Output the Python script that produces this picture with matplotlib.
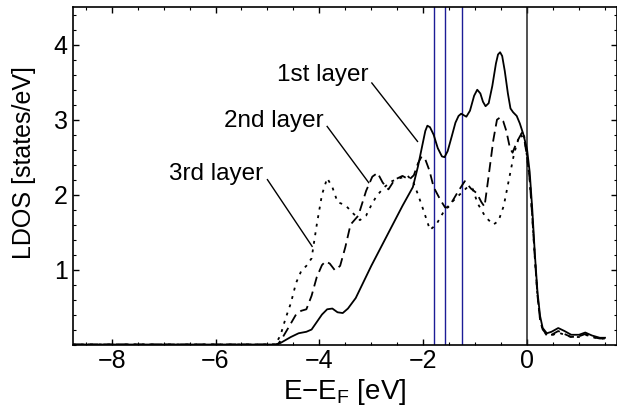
import numpy as np
import matplotlib.pyplot as plt
from matplotlib.ticker import MultipleLocator

plt.rcParams["font.family"] = ["Liberation Sans", "DejaVu Sans"]
plt.rcParams["mathtext.fontset"] = "custom"
plt.rcParams["mathtext.rm"] = "Liberation Sans"

# 1st layer (solid)
e1 = [-8.75, -5.0, -4.85, -4.75, -4.65, -4.55, -4.4, -4.25, -4.15, -4.05, -3.95,
      -3.85, -3.75, -3.65, -3.55, -3.45, -3.3, -3.0, -2.7, -2.4, -2.2, -2.1,
      -2.02, -1.96, -1.92, -1.87, -1.8, -1.72, -1.64, -1.59, -1.53, -1.45,
      -1.38, -1.32, -1.27, -1.22, -1.17, -1.1, -1.02, -0.96, -0.9, -0.85, -0.8,
      -0.74, -0.67, -0.6, -0.56, -0.52, -0.48, -0.43, -0.37, -0.32, -0.27,
      -0.2, -0.14, -0.07, 0.0, 0.05, 0.1, 0.15, 0.2, 0.25, 0.3, 0.38, 0.47,
      0.6, 0.72, 0.85, 1.0, 1.12, 1.25, 1.4, 1.5]
d1 = [0.0, 0.0, 0.0, 0.02, 0.06, 0.1, 0.15, 0.17, 0.2, 0.3, 0.4,
      0.47, 0.48, 0.43, 0.42, 0.48, 0.62, 1.05, 1.45, 1.85, 2.1, 2.38,
      2.65, 2.85, 2.92, 2.9, 2.8, 2.62, 2.51, 2.5, 2.58, 2.78,
      2.96, 3.05, 3.08, 3.06, 3.04, 3.12, 3.32, 3.4, 3.35, 3.24, 3.18,
      3.22, 3.45, 3.75, 3.87, 3.9, 3.85, 3.65, 3.35, 3.15, 3.1,
      3.05, 2.95, 2.8, 2.6, 2.3, 1.8, 1.2, 0.7, 0.38, 0.22, 0.15, 0.17,
      0.22, 0.18, 0.13, 0.13, 0.16, 0.12, 0.09, 0.09]

# 2nd layer (dashed)
e2 = [-8.75, -4.8, -4.72, -4.6, -4.45, -4.35, -4.25, -4.15, -4.05, -3.95, -3.88,
      -3.8, -3.7, -3.6, -3.5, -3.4, -3.25, -3.1, -2.98, -2.88, -2.78, -2.67,
      -2.55, -2.4, -2.27, -2.18, -2.1, -2.03, -1.96, -1.88, -1.8, -1.67, -1.58,
      -1.52, -1.45, -1.33, -1.2, -1.08, -0.97, -0.88, -0.82, -0.75, -0.65,
      -0.58, -0.52, -0.46, -0.4, -0.33, -0.28, -0.2, -0.12, -0.05, 0.0, 0.05,
      0.1, 0.15, 0.2, 0.25, 0.3, 0.38, 0.47, 0.6, 0.72, 0.85, 1.0, 1.12, 1.25,
      1.4, 1.5]
d2 = [0.0, 0.0, 0.08, 0.22, 0.4, 0.45, 0.47, 0.65, 0.9, 1.06, 1.11,
      1.08, 0.99, 1.05, 1.3, 1.6, 1.72, 2.05, 2.24, 2.29, 2.16, 2.07,
      2.2, 2.25, 2.2, 2.26, 2.42, 2.51, 2.47, 2.32, 2.1, 1.93, 1.83,
      1.83, 1.9, 2.04, 2.18, 2.08, 2.02, 1.9, 1.84, 2.2, 2.73,
      3.0, 3.03, 2.98, 2.85, 2.62, 2.56, 2.7, 2.8, 2.72, 2.5, 2.2,
      1.7, 1.15, 0.65, 0.33, 0.2, 0.13, 0.13, 0.18, 0.14, 0.1, 0.11, 0.14, 0.1,
      0.08, 0.08]

# 3rd layer (dotted)
e3 = [-8.75, -4.85, -4.75, -4.65, -4.55, -4.45, -4.35, -4.25, -4.15, -4.05,
      -3.95, -3.85, -3.75, -3.65, -3.5, -3.35, -3.22, -3.1, -3.0, -2.9, -2.75,
      -2.6, -2.45, -2.3, -2.2, -2.1, -2.0, -1.87, -1.75, -1.6, -1.45, -1.3,
      -1.15, -1.05, -0.95, -0.8, -0.65, -0.55, -0.45, -0.35, -0.25, -0.15,
      -0.07, 0.0, 0.05, 0.1, 0.15, 0.2, 0.25, 0.3, 0.38, 0.47, 0.6, 0.72, 0.85,
      1.0, 1.12, 1.25, 1.4, 1.5]
d3 = [0.0, 0.0, 0.12, 0.35, 0.55, 0.82, 0.98, 1.05, 1.15, 1.6,
      2.0, 2.22, 2.1, 1.9, 1.86, 1.75, 1.66, 1.72, 1.86, 1.98, 2.1,
      2.18, 2.22, 2.25, 2.18, 2.0, 1.8, 1.53, 1.6, 1.78, 1.9, 2.0,
      2.1, 2.08, 1.88, 1.7, 1.6, 1.65, 1.85, 2.2, 2.55, 2.78,
      2.85, 2.5, 2.2, 1.7, 1.15, 0.65, 0.33, 0.2, 0.12, 0.12, 0.16, 0.13, 0.1,
      0.1, 0.13, 0.1, 0.08, 0.08]

blue_lines = [-1.80, -1.59, -1.256]

labels = ["1st layer", "2nd layer", "3rd layer"]
label_pos = [(-3.06, 3.51), (-3.92, 2.90), (-5.08, 2.20)]
pointer_start = [(-2.99, 3.49), (-3.85, 2.91), (-5.0, 2.2)]
pointer_end = [(-2.11, 2.71), (-3.05, 2.16), (-4.14, 1.31)]

fig = plt.figure(figsize=(6.17, 4.12), dpi=100)
ax = fig.add_axes([0.1178, 0.1638, 1.0 - 0.1178, 0.9823 - 0.1638])

for xv in blue_lines:
    ax.axvline(xv, color="#1c1c96", lw=1.0)
ax.axvline(0, color="#222222", lw=1.1)

ax.plot(e1, d1, "k-", lw=1.3)
ax.plot(e2, d2, color="k", lw=1.3, dashes=(5.5, 3))
ax.plot(e3, d3, color="k", lw=1.3, dashes=(1.6, 3.2))

for lab, (tx, ty), (sx, sy), (ex, ey) in zip(labels, label_pos, pointer_start, pointer_end):
    ax.text(tx, ty, lab, ha="right", va="baseline", fontsize=17.5)
    ax.plot([sx, ex], [sy, ey], "k-", lw=1.0)

ax.set_xlim(-8.75, 1.731)
ax.set_ylim(0, 4.5)
ax.xaxis.set_major_locator(MultipleLocator(2))
ax.xaxis.set_minor_locator(MultipleLocator(0.5))
ax.set_yticks([1, 2, 3, 4])
ax.yaxis.set_minor_locator(MultipleLocator(0.2))
ax.tick_params(which="both", direction="in", top=True, right=True, labelsize=18)
ax.tick_params(which="major", length=4, width=1)
ax.tick_params(which="minor", length=2, width=0.8)
ax.set_xlabel("E\u2212E$_{\\mathregular{F}}$ [eV]", fontsize=20)
ax.xaxis.set_label_coords(0.5, -0.095)
ax.set_ylabel("LDOS [states/eV]", fontsize=18)
ax.yaxis.set_label_coords(-0.068, 0.54)
for sp in ax.spines.values():
    sp.set_linewidth(1.2)

fig.savefig("out.png", dpi=100)
